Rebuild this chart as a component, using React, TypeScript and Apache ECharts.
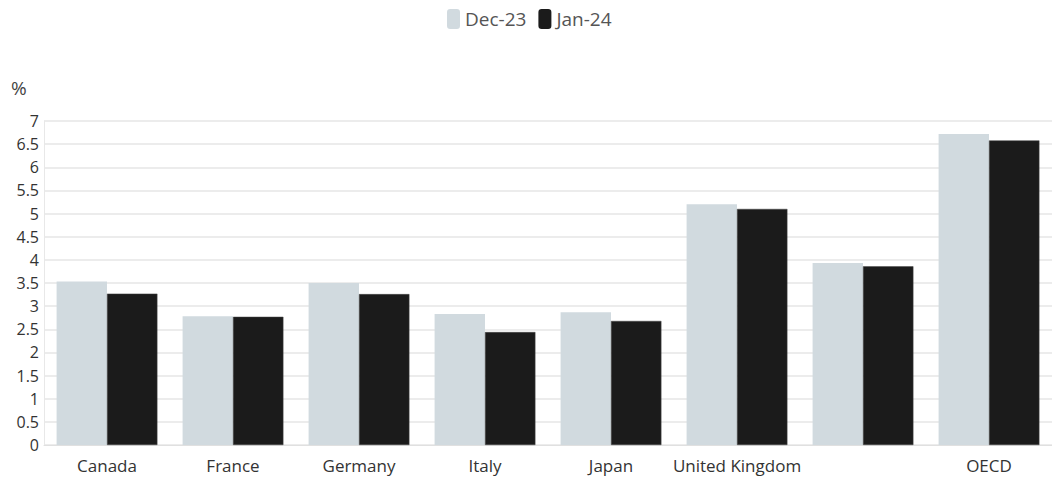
import React, { useEffect, useRef } from "react";
import * as echarts from "echarts";

const categories = ["Canada", "France", "Germany", "Italy", "Japan", "United Kingdom", "", "OECD"];
const dec23 = [3.53, 2.78, 3.5, 2.83, 2.87, 5.2, 3.93, 6.72];
const jan24 = [3.27, 2.77, 3.26, 2.44, 2.68, 5.1, 3.86, 6.58];
const seriesNames = ["Dec-23", "Jan-24"];

const FONT = "'Open Sans'";

export default function App() {
  const ref = useRef<HTMLDivElement>(null);

  useEffect(() => {
    if (!ref.current) return;
    const chart = echarts.init(ref.current, undefined, { renderer: "svg" });
    chart.setOption({
      animation: false,
      backgroundColor: "#ffffff",
      textStyle: { fontFamily: FONT },
      legend: {
        top: 4,
        left: 442,
        icon: "roundRect",
        itemWidth: 13,
        itemHeight: 20,
        itemGap: 12,
        itemStyle: { borderWidth: 0 },
        textStyle: { fontSize: 19, color: "#555", fontFamily: FONT },
        data: seriesNames,
      },
      grid: { left: 44, right: 0, top: 121, bottom: 37, containLabel: false },
      xAxis: {
        type: "category",
        data: categories,
        axisLine: { lineStyle: { color: "#e0e0e0", width: 1 } },
        axisTick: { alignWithLabel: true, length: 6, lineStyle: { color: "#e0e0e0" } },
        axisLabel: { interval: 0, fontSize: 17, color: "#333", margin: 12, fontFamily: FONT },
      },
      yAxis: {
        type: "value",
        min: 0,
        max: 7,
        interval: 0.5,
        name: "%",
        nameLocation: "end",
        nameGap: 24,
        nameTextStyle: { fontSize: 19, color: "#444", align: "left", padding: [0, 0, 0, -33], fontFamily: FONT },
        axisLine: { show: true, lineStyle: { color: "#e8e8e8", width: 1 } },
        axisTick: { show: false },
        axisLabel: { fontSize: 16, color: "#333", margin: 5, fontFamily: FONT },
        splitLine: { lineStyle: { color: "#ececec", width: 2 } },
      },
      series: [
        {
          name: seriesNames[0],
          type: "bar",
          data: dec23,
          barGap: "0%",
          barCategoryGap: "20%",
          itemStyle: { color: "#d1dadf" },
        },
        {
          name: seriesNames[1],
          type: "bar",
          data: jan24,
          itemStyle: { color: "#1b1b1b", borderColor: "#444", borderWidth: 0.5 },
        },
      ],
    });
    return () => chart.dispose();
  }, []);

  return (
    <div
      ref={ref}
      style={{ position: "absolute", left: 0, top: 0, width: 1052, height: 482 }}
    />
  );
}
